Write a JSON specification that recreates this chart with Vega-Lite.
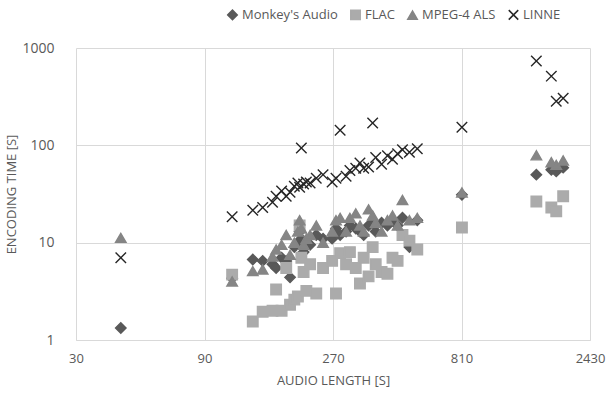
{
  "$schema": "https://vega.github.io/schema/vega-lite/v6.json",
  "width": 514,
  "height": 292,
  "autosize": {"type": "none"},
  "padding": {"left": 76, "top": 48, "right": 17, "bottom": 54},
  "background": "white",
  "config": {
    "view": {"stroke": null},
    "font": "Open Sans",
    "axis": {"labelColor": "#595959", "titleColor": "#595959", "labelFont": "Open Sans", "titleFont": "Open Sans", "labelFontSize": 14, "titleFontSize": 13, "titleFontWeight": "normal", "gridColor": "#d9d9d9", "gridWidth": 1, "ticks": false}
  },
  "data": {"values": [
    {"codec": "Monkey's Audio", "length": 44, "time": 1.33},
    {"codec": "Monkey's Audio", "length": 114, "time": 4.3},
    {"codec": "Monkey's Audio", "length": 136, "time": 6.7},
    {"codec": "Monkey's Audio", "length": 148, "time": 6.5},
    {"codec": "Monkey's Audio", "length": 161, "time": 6.0},
    {"codec": "Monkey's Audio", "length": 166, "time": 5.5},
    {"codec": "Monkey's Audio", "length": 174, "time": 7.0},
    {"codec": "Monkey's Audio", "length": 181, "time": 6.5},
    {"codec": "Monkey's Audio", "length": 187, "time": 4.4},
    {"codec": "Monkey's Audio", "length": 194, "time": 9.0},
    {"codec": "Monkey's Audio", "length": 200, "time": 10.0},
    {"codec": "Monkey's Audio", "length": 203, "time": 13.0},
    {"codec": "Monkey's Audio", "length": 206, "time": 11.0},
    {"codec": "Monkey's Audio", "length": 210, "time": 8.0},
    {"codec": "Monkey's Audio", "length": 215, "time": 10.0},
    {"codec": "Monkey's Audio", "length": 222, "time": 9.5},
    {"codec": "Monkey's Audio", "length": 234, "time": 12.0},
    {"codec": "Monkey's Audio", "length": 248, "time": 11.0},
    {"codec": "Monkey's Audio", "length": 268, "time": 11.0},
    {"codec": "Monkey's Audio", "length": 277, "time": 14.0},
    {"codec": "Monkey's Audio", "length": 287, "time": 12.0},
    {"codec": "Monkey's Audio", "length": 302, "time": 13.0},
    {"codec": "Monkey's Audio", "length": 312, "time": 15.0},
    {"codec": "Monkey's Audio", "length": 328, "time": 14.0},
    {"codec": "Monkey's Audio", "length": 340, "time": 13.0},
    {"codec": "Monkey's Audio", "length": 351, "time": 12.0},
    {"codec": "Monkey's Audio", "length": 366, "time": 15.0},
    {"codec": "Monkey's Audio", "length": 379, "time": 16.0},
    {"codec": "Monkey's Audio", "length": 389, "time": 13.0},
    {"codec": "Monkey's Audio", "length": 409, "time": 16.0},
    {"codec": "Monkey's Audio", "length": 430, "time": 15.0},
    {"codec": "Monkey's Audio", "length": 449, "time": 17.0},
    {"codec": "Monkey's Audio", "length": 469, "time": 15.0},
    {"codec": "Monkey's Audio", "length": 489, "time": 18.0},
    {"codec": "Monkey's Audio", "length": 519, "time": 9.0},
    {"codec": "Monkey's Audio", "length": 555, "time": 17.0},
    {"codec": "Monkey's Audio", "length": 813, "time": 31},
    {"codec": "Monkey's Audio", "length": 1536, "time": 50},
    {"codec": "Monkey's Audio", "length": 1746, "time": 56},
    {"codec": "Monkey's Audio", "length": 1821, "time": 54},
    {"codec": "Monkey's Audio", "length": 1932, "time": 59},

    {"codec": "FLAC", "length": 114, "time": 4.7},
    {"codec": "FLAC", "length": 136, "time": 1.55},
    {"codec": "FLAC", "length": 148, "time": 1.95},
    {"codec": "FLAC", "length": 161, "time": 2.0},
    {"codec": "FLAC", "length": 166, "time": 3.3},
    {"codec": "FLAC", "length": 174, "time": 2.0},
    {"codec": "FLAC", "length": 181, "time": 5.5},
    {"codec": "FLAC", "length": 187, "time": 2.3},
    {"codec": "FLAC", "length": 194, "time": 2.6},
    {"codec": "FLAC", "length": 200, "time": 2.8},
    {"codec": "FLAC", "length": 203, "time": 15},
    {"codec": "FLAC", "length": 206, "time": 7},
    {"codec": "FLAC", "length": 210, "time": 5},
    {"codec": "FLAC", "length": 215, "time": 3.2},
    {"codec": "FLAC", "length": 222, "time": 6},
    {"codec": "FLAC", "length": 234, "time": 3.0},
    {"codec": "FLAC", "length": 248, "time": 5.5},
    {"codec": "FLAC", "length": 268, "time": 6.5},
    {"codec": "FLAC", "length": 277, "time": 3.0},
    {"codec": "FLAC", "length": 287, "time": 7.8},
    {"codec": "FLAC", "length": 302, "time": 6},
    {"codec": "FLAC", "length": 312, "time": 8},
    {"codec": "FLAC", "length": 328, "time": 5.5},
    {"codec": "FLAC", "length": 340, "time": 3.8},
    {"codec": "FLAC", "length": 351, "time": 7},
    {"codec": "FLAC", "length": 366, "time": 4.5},
    {"codec": "FLAC", "length": 379, "time": 9},
    {"codec": "FLAC", "length": 389, "time": 6},
    {"codec": "FLAC", "length": 409, "time": 5},
    {"codec": "FLAC", "length": 430, "time": 4.8},
    {"codec": "FLAC", "length": 449, "time": 7},
    {"codec": "FLAC", "length": 469, "time": 6.5},
    {"codec": "FLAC", "length": 489, "time": 12},
    {"codec": "FLAC", "length": 519, "time": 10.5},
    {"codec": "FLAC", "length": 555, "time": 8.5},
    {"codec": "FLAC", "length": 813, "time": 14.3},
    {"codec": "FLAC", "length": 1536, "time": 26.5},
    {"codec": "FLAC", "length": 1746, "time": 23},
    {"codec": "FLAC", "length": 1821, "time": 21},
    {"codec": "FLAC", "length": 1932, "time": 30},

    {"codec": "MPEG-4 ALS", "length": 44, "time": 11.2},
    {"codec": "MPEG-4 ALS", "length": 114, "time": 4.0},
    {"codec": "MPEG-4 ALS", "length": 136, "time": 5.1},
    {"codec": "MPEG-4 ALS", "length": 148, "time": 5.3},
    {"codec": "MPEG-4 ALS", "length": 161, "time": 7.2},
    {"codec": "MPEG-4 ALS", "length": 166, "time": 8.5},
    {"codec": "MPEG-4 ALS", "length": 174, "time": 9.5},
    {"codec": "MPEG-4 ALS", "length": 181, "time": 12},
    {"codec": "MPEG-4 ALS", "length": 187, "time": 7.5},
    {"codec": "MPEG-4 ALS", "length": 194, "time": 10},
    {"codec": "MPEG-4 ALS", "length": 200, "time": 13},
    {"codec": "MPEG-4 ALS", "length": 203, "time": 17},
    {"codec": "MPEG-4 ALS", "length": 206, "time": 14},
    {"codec": "MPEG-4 ALS", "length": 210, "time": 9.5},
    {"codec": "MPEG-4 ALS", "length": 215, "time": 11},
    {"codec": "MPEG-4 ALS", "length": 222, "time": 12},
    {"codec": "MPEG-4 ALS", "length": 234, "time": 15},
    {"codec": "MPEG-4 ALS", "length": 248, "time": 10},
    {"codec": "MPEG-4 ALS", "length": 268, "time": 13},
    {"codec": "MPEG-4 ALS", "length": 277, "time": 17},
    {"codec": "MPEG-4 ALS", "length": 287, "time": 18},
    {"codec": "MPEG-4 ALS", "length": 302, "time": 13},
    {"codec": "MPEG-4 ALS", "length": 312, "time": 18},
    {"codec": "MPEG-4 ALS", "length": 328, "time": 20},
    {"codec": "MPEG-4 ALS", "length": 340, "time": 15},
    {"codec": "MPEG-4 ALS", "length": 351, "time": 13},
    {"codec": "MPEG-4 ALS", "length": 366, "time": 22},
    {"codec": "MPEG-4 ALS", "length": 379, "time": 19},
    {"codec": "MPEG-4 ALS", "length": 389, "time": 16},
    {"codec": "MPEG-4 ALS", "length": 409, "time": 13},
    {"codec": "MPEG-4 ALS", "length": 430, "time": 17},
    {"codec": "MPEG-4 ALS", "length": 449, "time": 19},
    {"codec": "MPEG-4 ALS", "length": 469, "time": 15},
    {"codec": "MPEG-4 ALS", "length": 489, "time": 27.5},
    {"codec": "MPEG-4 ALS", "length": 519, "time": 17},
    {"codec": "MPEG-4 ALS", "length": 555, "time": 18},
    {"codec": "MPEG-4 ALS", "length": 813, "time": 32.8},
    {"codec": "MPEG-4 ALS", "length": 1536, "time": 79},
    {"codec": "MPEG-4 ALS", "length": 1746, "time": 67},
    {"codec": "MPEG-4 ALS", "length": 1821, "time": 63},
    {"codec": "MPEG-4 ALS", "length": 1932, "time": 70},

    {"codec": "LINNE", "length": 44, "time": 7.0},
    {"codec": "LINNE", "length": 114, "time": 18.5},
    {"codec": "LINNE", "length": 136, "time": 21.5},
    {"codec": "LINNE", "length": 148, "time": 23},
    {"codec": "LINNE", "length": 161, "time": 26},
    {"codec": "LINNE", "length": 166, "time": 30},
    {"codec": "LINNE", "length": 174, "time": 34},
    {"codec": "LINNE", "length": 181, "time": 30},
    {"codec": "LINNE", "length": 187, "time": 33},
    {"codec": "LINNE", "length": 194, "time": 38},
    {"codec": "LINNE", "length": 200, "time": 41},
    {"codec": "LINNE", "length": 203, "time": 37},
    {"codec": "LINNE", "length": 206, "time": 94},
    {"codec": "LINNE", "length": 210, "time": 40},
    {"codec": "LINNE", "length": 215, "time": 42},
    {"codec": "LINNE", "length": 222, "time": 41},
    {"codec": "LINNE", "length": 234, "time": 46},
    {"codec": "LINNE", "length": 248, "time": 50},
    {"codec": "LINNE", "length": 268, "time": 42},
    {"codec": "LINNE", "length": 277, "time": 46},
    {"codec": "LINNE", "length": 287, "time": 143},
    {"codec": "LINNE", "length": 302, "time": 48},
    {"codec": "LINNE", "length": 312, "time": 55},
    {"codec": "LINNE", "length": 328, "time": 58},
    {"codec": "LINNE", "length": 340, "time": 66},
    {"codec": "LINNE", "length": 351, "time": 58},
    {"codec": "LINNE", "length": 366, "time": 60},
    {"codec": "LINNE", "length": 379, "time": 170},
    {"codec": "LINNE", "length": 389, "time": 75},
    {"codec": "LINNE", "length": 409, "time": 64},
    {"codec": "LINNE", "length": 430, "time": 78},
    {"codec": "LINNE", "length": 449, "time": 72},
    {"codec": "LINNE", "length": 469, "time": 82},
    {"codec": "LINNE", "length": 489, "time": 90},
    {"codec": "LINNE", "length": 519, "time": 85},
    {"codec": "LINNE", "length": 555, "time": 92},
    {"codec": "LINNE", "length": 813, "time": 153},
    {"codec": "LINNE", "length": 1536, "time": 734},
    {"codec": "LINNE", "length": 1746, "time": 514},
    {"codec": "LINNE", "length": 1821, "time": 284},
    {"codec": "LINNE", "length": 1932, "time": 305}
  ]},
  "mark": {"type": "point", "filled": true, "opacity": 1, "size": 110, "strokeWidth": 1.4},
  "encoding": {
    "x": {"field": "length", "type": "quantitative", "title": "AUDIO LENGTH [S]",
      "scale": {"type": "log", "base": 3, "domain": [30, 2430], "nice": false},
      "axis": {"values": [30, 90, 270, 810, 2430], "format": "d", "domain": true, "domainColor": "#d9d9d9", "labelFontSize": 13, "labelPadding": 12, "titlePadding": 9, "labelFlush": false}},
    "y": {"field": "time", "type": "quantitative", "title": "ENCODING TIME [S]",
      "scale": {"type": "log", "domain": [1, 1000], "nice": false},
      "axis": {"values": [1, 10, 100, 1000], "format": "d", "domain": false, "labelPadding": 22, "titlePadding": 3, "labelFlush": false}},
    "fill": {"field": "codec", "type": "nominal", "sort": ["Monkey's Audio", "FLAC", "MPEG-4 ALS", "LINNE"],
      "scale": {"domain": ["Monkey's Audio", "FLAC", "MPEG-4 ALS", "LINNE"], "range": ["#595959", "#ababab", "#858585", "#262626"]},
      "legend": {"title": null, "orient": "none", "direction": "horizontal", "legendX": 150, "legendY": -40, "labelFontSize": 13, "labelColor": "#595959", "labelFont": "Open Sans", "symbolSize": 90, "columnPadding": 9, "labelOffset": 3}},
    "stroke": {"field": "codec", "type": "nominal", "sort": ["Monkey's Audio", "FLAC", "MPEG-4 ALS", "LINNE"],
      "scale": {"domain": ["Monkey's Audio", "FLAC", "MPEG-4 ALS", "LINNE"], "range": ["#595959", "#ababab", "#858585", "#262626"]},
      "legend": {"title": null, "orient": "none", "direction": "horizontal", "legendX": 150, "legendY": -40, "labelFontSize": 13, "labelColor": "#595959", "labelFont": "Open Sans", "symbolSize": 90, "columnPadding": 9, "labelOffset": 3}},
    "shape": {"field": "codec", "type": "nominal", "sort": ["Monkey's Audio", "FLAC", "MPEG-4 ALS", "LINNE"],
      "scale": {"domain": ["Monkey's Audio", "FLAC", "MPEG-4 ALS", "LINNE"], "range": ["diamond", "square", "triangle-up", "M-1,-1L1,1M1,-1L-1,1"]},
      "legend": {"title": null, "orient": "none", "direction": "horizontal", "legendX": 150, "legendY": -40, "labelFontSize": 13, "labelColor": "#595959", "labelFont": "Open Sans", "symbolSize": 90, "columnPadding": 9, "labelOffset": 3}}
  }
}
